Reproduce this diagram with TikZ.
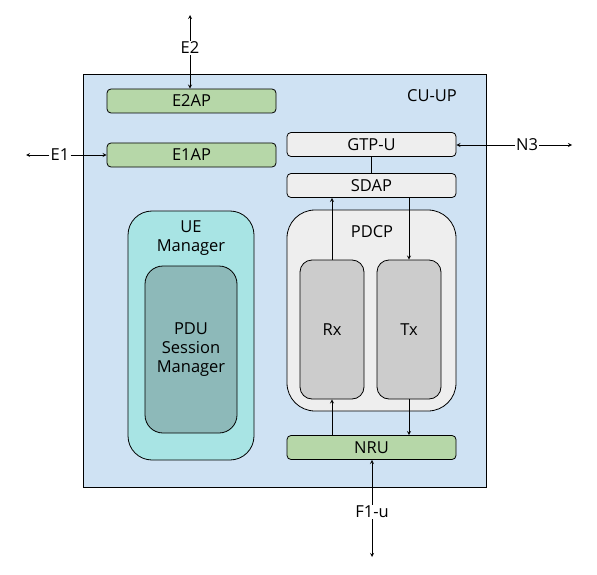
\documentclass[tikz,border=0pt]{standalone}
\usepackage{fontspec}
\setmainfont{Open Sans}
\usepackage{xcolor}
\usetikzlibrary{arrows, positioning, calc}

\definecolor{cublue}{HTML}{CFE2F3}
\definecolor{apgreen}{HTML}{B6D7A8}
\definecolor{lgray}{HTML}{EEEEEE}
\definecolor{mgray}{HTML}{CCCCCC}
\definecolor{uecyan}{HTML}{A8E4E4}
\definecolor{pduteal}{HTML}{8DB9B9}

\begin{document}
\begin{tikzpicture}[x=1pt, y=-1pt, font=\fontsize{16.5}{19}\selectfont]
    % Styles
    \tikzstyle{bar} = [rectangle, draw, line width=0.8pt, rounded corners=4pt, minimum width=169pt, minimum height=24pt, inner sep=0pt]
    \tikzstyle{tall} = [rectangle, draw, line width=0.8pt, rounded corners=18pt, inner sep=0pt]
    \tikzstyle{arrow} = [line width=0.8pt,->,>=stealth]
    \tikzstyle{link} = [line width=0.8pt]

    \useasboundingbox (0,0) rectangle (597,575);

    % CU-UP
    \node[rectangle, draw, line width=0.8pt, fill=cublue, minimum width=403pt, minimum height=413pt, inner sep=0pt] (cuup) at (284.5,280.5) {};
    \node (cuuplabel) at (432,96) {CU-UP};

    % E2AP / E1AP
    \node[bar, fill=apgreen] (e2ap) at (191.5,101) {E2AP};
    \node[bar, fill=apgreen] (e1ap) at (191.5,155) {E1AP};

    % GTP-U / SDAP
    \node[bar, fill=lgray] (gtpu) at (371.5,144.5) {GTP-U};
    \node[bar, fill=lgray] (sdap) at (371.5,185.5) {SDAP};

    % UE Manager
    \node[tall, fill=uecyan, rounded corners=24pt, minimum width=126pt, minimum height=249pt] (uemgr) at (191,335.5) {};
    \node[align=center] (uelabel) at (191,238) {UE\\Manager};
    \node[tall, fill=pduteal, minimum width=92pt, minimum height=167pt, align=center] (pdu) at (191,349.5) {PDU\\Session\\Manager};

    % PDCP
    \node[tall, fill=lgray, rounded corners=28pt, minimum width=169pt, minimum height=201pt] (pdcp) at (371.5,310.5) {};
    \node (pdcplabel) at (372,232) {PDCP};
    \node[tall, fill=mgray, rounded corners=12pt, minimum width=64pt, minimum height=139pt] (rx) at (332,329.5) {Rx};
    \node[tall, fill=mgray, rounded corners=12pt, minimum width=64pt, minimum height=139pt] (tx) at (409,329.5) {Tx};

    % NRU
    \node[bar, fill=apgreen] (nru) at (371.5,447.5) {NRU};

    % Interfaces
    \node[fill=white, inner sep=1pt] (e2) at (190,48) {E2};
    \node[fill=white, inner sep=1pt] (e1) at (60,155) {E1};
    \node[fill=white, inner sep=1pt] (n3) at (527,145) {N3};
    \node[fill=white, inner sep=1pt] (f1u) at (372,512) {F1-u};
    \coordinate (e2end) at (190,15);
    \coordinate (e1end) at (26,155);
    \coordinate (n3end) at (572,145);
    \coordinate (f1uend) at (372,557);

    % Arrows
    \draw[arrow] (e2) -- (e2end);
    \draw[arrow] (e2) -- (e2 |- e2ap.north);
    \draw[arrow] (e1) -- (e1end);
    \draw[arrow] (e1) -- (e1ap.west);
    \draw[arrow] (n3) -- (n3end);
    \draw[arrow] (n3) -- (gtpu.east |- n3);
    \draw[arrow] (f1u) -- (f1uend);
    \draw[arrow] (f1u) -- (f1u |- nru.south);
    \draw[link] (gtpu) -- (sdap);
    \draw[arrow] (rx.north) -- (rx.north |- sdap.south);
    \draw[arrow] (tx.north |- sdap.south) -- (tx.north);
    \draw[arrow] (rx.south |- nru.north) -- (rx.south);
    \draw[arrow] (tx.south) -- (tx.south |- nru.north);
\end{tikzpicture}
\end{document}
